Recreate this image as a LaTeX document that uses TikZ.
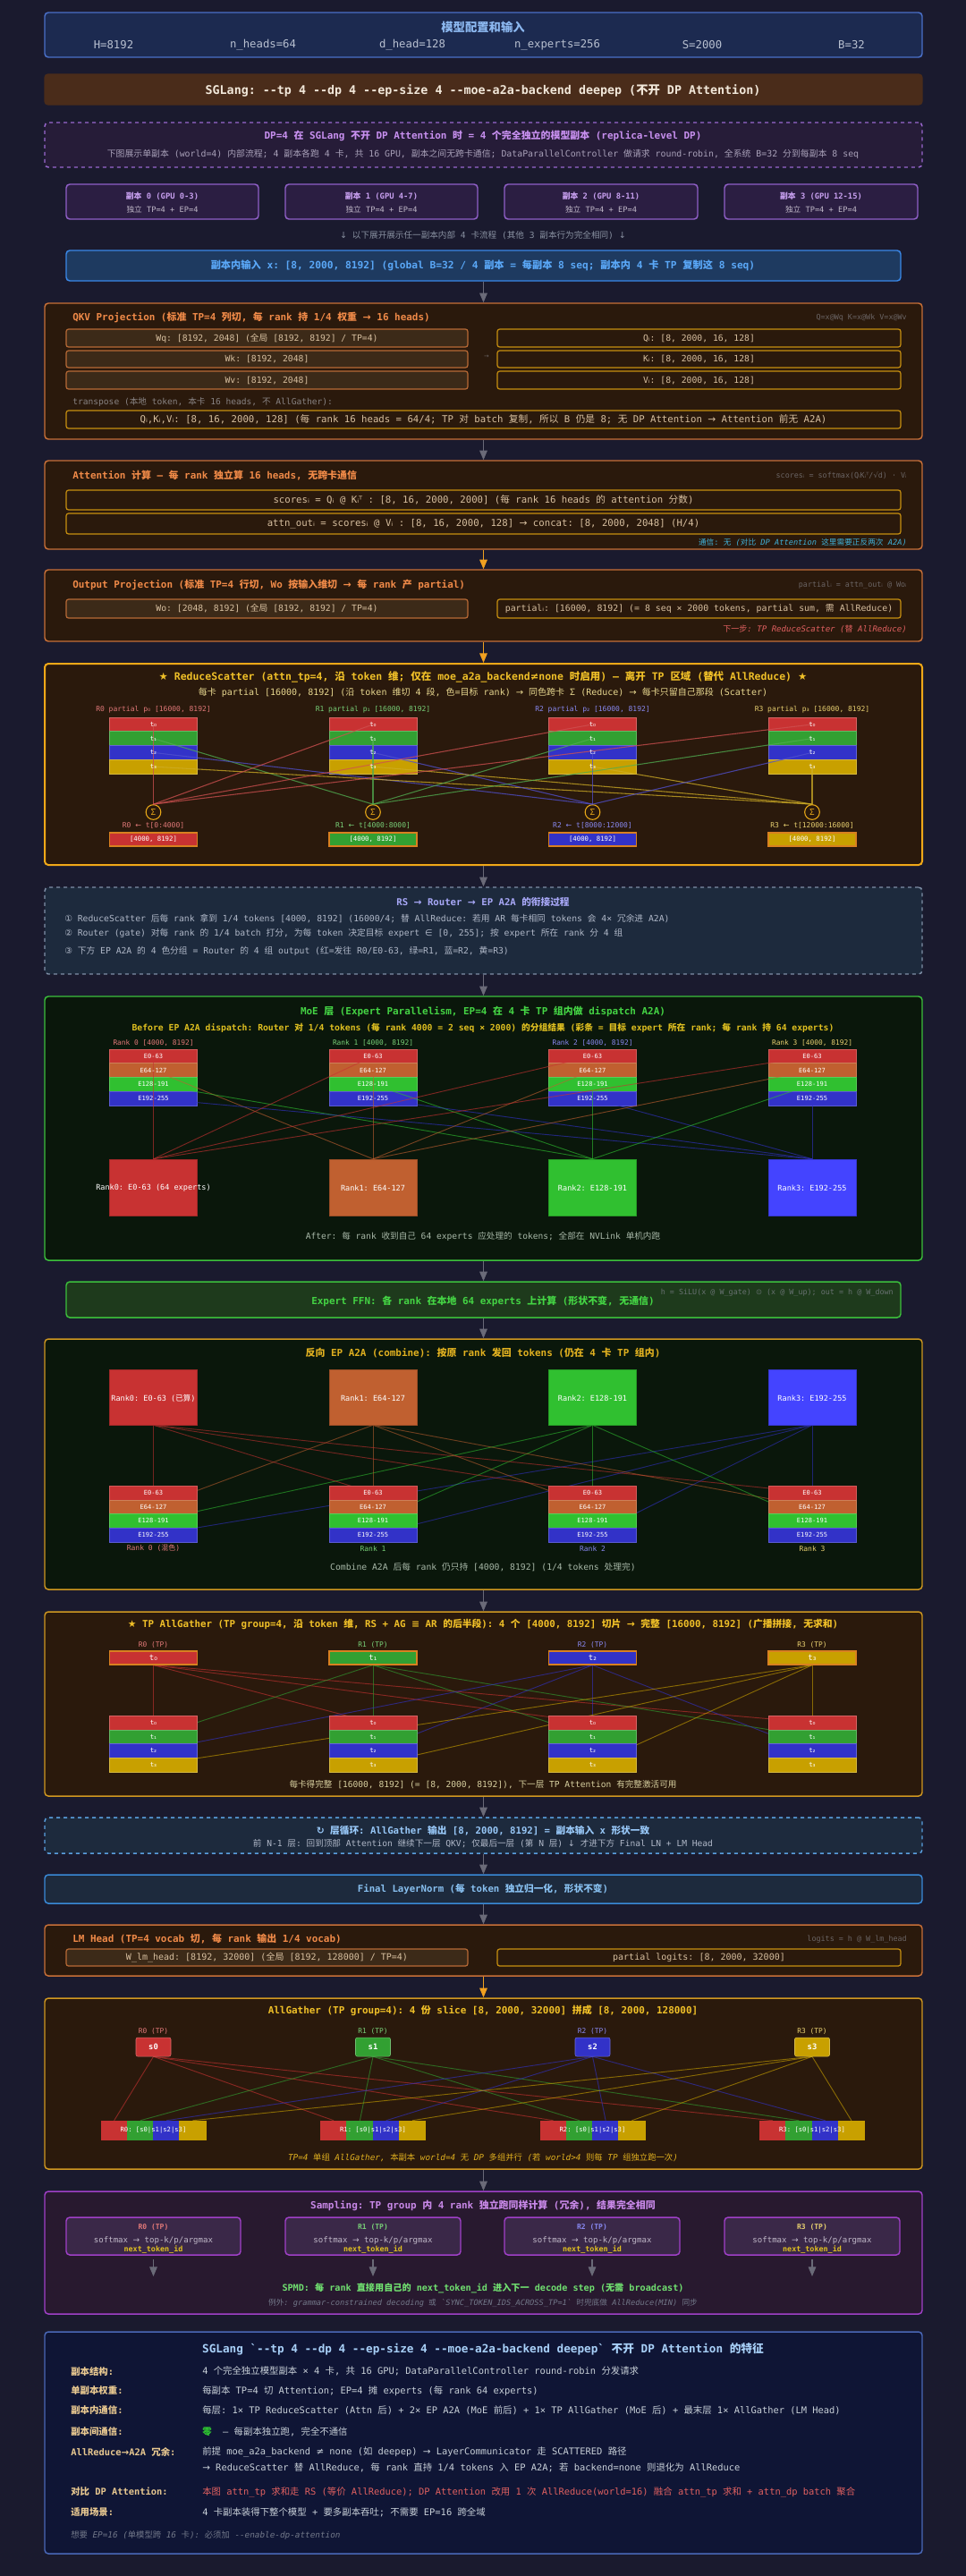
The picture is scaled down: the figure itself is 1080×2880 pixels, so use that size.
\documentclass[tikz,border=0pt]{standalone}
\usepackage{fontspec}
\setmonofont{DejaVu Sans Mono}
\renewcommand{\familydefault}{\ttdefault}
\newfontfamily\cjkfont{Noto Sans CJK SC}
\newfontfamily\symfont{DejaVu Sans}
\usetikzlibrary{fit,arrows.meta}
\pgfdeclarelayer{boxes}
\pgfdeclarelayer{lines}
\pgfsetlayers{boxes,lines,main}
% --- automatic font switching between Latin / CJK / symbols ---
\XeTeXinterchartokenstate=1
\newXeTeXintercharclass\cjkcls
\newXeTeXintercharclass\symcls
\newcount\ccnt
\def\setcls#1#2#3{\ccnt=#1\relax\loop\XeTeXcharclass\ccnt=#3\relax\ifnum\ccnt<#2\advance\ccnt by 1\repeat}
\setcls{"4E00}{"9FFF}{\cjkcls}
\setcls{"3000}{"303F}{\cjkcls}
\setcls{"FF00}{"FFEF}{\cjkcls}
\XeTeXcharclass"1D62=\symcls
\XeTeXcharclass"1D40=\symcls
\XeTeXcharclass"2080=\symcls
\XeTeXcharclass"2081=\symcls
\XeTeXcharclass"2082=\symcls
\XeTeXcharclass"2083=\symcls
\XeTeXcharclass"2605=\symcls
\XeTeXcharclass"21BB=\symcls
\XeTeXcharclass"2460=\symcls
\XeTeXcharclass"2461=\symcls
\XeTeXcharclass"2462=\symcls
\XeTeXcharclass"2299=\symcls
\XeTeXcharclass"221A=\symcls
\XeTeXcharclass"2190=\symcls
\XeTeXcharclass"2192=\symcls
\XeTeXcharclass"2193=\symcls
\XeTeXcharclass"2260=\symcls
\XeTeXcharclass"2208=\symcls
\XeTeXcharclass"2261=\symcls
\XeTeXinterchartoks 0 \cjkcls = {\cjkfont}
\XeTeXinterchartoks 4095 \cjkcls = {\cjkfont}
\XeTeXinterchartoks \symcls \cjkcls = {\cjkfont}
\XeTeXinterchartoks \cjkcls 0 = {\ttfamily}
\XeTeXinterchartoks \cjkcls 4095 = {\ttfamily}
\XeTeXinterchartoks \cjkcls \symcls = {\symfont}
\XeTeXinterchartoks 0 \symcls = {\symfont}
\XeTeXinterchartoks 4095 \symcls = {\symfont}
\XeTeXinterchartoks \symcls 0 = {\ttfamily}
\XeTeXinterchartoks \symcls 4095 = {\ttfamily}
\newcommand\fz[1]{\fontsize{#1}{#1}\selectfont}
\newcommand\sub[1]{\ifcase#1 ₀\or ₁\or ₂\or ₃\fi}
% --- colours ---
\definecolor{bgc}{HTML}{1A1A2E}
\definecolor{cfgfill}{HTML}{1C2A50}
\definecolor{cfgdraw}{HTML}{4A70C8}
\definecolor{cfgtitle}{HTML}{8CB8F0}
\definecolor{cfgtxt}{HTML}{B8C0D0}
\definecolor{banner}{HTML}{4A2C1A}
\definecolor{bannertxt}{HTML}{F2E8DA}
\definecolor{dpfill}{HTML}{261C38}
\definecolor{dpdraw}{HTML}{9A68D0}
\definecolor{dptitle}{HTML}{C890F0}
\definecolor{dpsub}{HTML}{A8A0B8}
\definecolor{repfill}{HTML}{2B1E42}
\definecolor{repdraw}{HTML}{9060C8}
\definecolor{reptitle}{HTML}{C8A0F0}
\definecolor{reptxt}{HTML}{C0B8C8}
\definecolor{notec}{HTML}{8890A0}
\definecolor{infill}{HTML}{1E3A60}
\definecolor{indraw}{HTML}{3A88E8}
\definecolor{intxt}{HTML}{5AA8F8}
\definecolor{ofill}{HTML}{2A190C}
\definecolor{odraw}{HTML}{C87038}
\definecolor{otitle}{HTML}{F08A48}
\definecolor{onote}{HTML}{6A6464}
\definecolor{wfill}{HTML}{3C2A18}
\definecolor{wdraw}{HTML}{B86A36}
\definecolor{wtxt}{HTML}{D8C0A0}
\definecolor{qdraw}{HTML}{C89010}
\definecolor{arrgray}{HTML}{6A6A78}
\definecolor{arrgold}{HTML}{F0A020}
\definecolor{rsdraw}{HTML}{F0A818}
\definecolor{rstitle}{HTML}{F0C028}
\definecolor{rssub}{HTML}{E8D890}
\definecolor{sigc}{HTML}{E8A818}
\definecolor{rc0}{HTML}{C83232}
\definecolor{rc1}{HTML}{32A032}
\definecolor{rc2}{HTML}{3232C8}
\definecolor{rc3}{HTML}{C8A000}
\definecolor{ec0}{HTML}{C83232}
\definecolor{ec1}{HTML}{C06030}
\definecolor{ec2}{HTML}{30C030}
\definecolor{ec3}{HTML}{3232C8}
\definecolor{bk0}{HTML}{C83232}
\definecolor{bk1}{HTML}{C06030}
\definecolor{bk2}{HTML}{30C030}
\definecolor{bk3}{HTML}{4444FF}
\definecolor{lab0}{HTML}{E07878}
\definecolor{lab1}{HTML}{78D078}
\definecolor{lab2}{HTML}{8888F0}
\definecolor{lab3}{HTML}{E8D070}
\definecolor{resdraw}{HTML}{D88020}
\definecolor{gfill}{HTML}{0A170B}
\definecolor{gdraw}{HTML}{3CC03C}
\definecolor{gtitle}{HTML}{44D444}
\definecolor{gsub}{HTML}{E0C020}
\definecolor{gnote}{HTML}{A8B8A8}
\definecolor{ffnfill}{HTML}{1E3A1C}
\definecolor{cdraw}{HTML}{D09820}
\definecolor{ctitle}{HTML}{E0B020}
\definecolor{ldfill}{HTML}{1D2A3D}
\definecolor{lddraw}{HTML}{8090A8}
\definecolor{ldtitle}{HTML}{A8A8F8}
\definecolor{ldtxt}{HTML}{B0B8C8}
\definecolor{loopdraw}{HTML}{5AA0E0}
\definecolor{looptitle}{HTML}{98C8F8}
\definecolor{lndraw}{HTML}{3A8AD8}
\definecolor{lntxt}{HTML}{88C0F0}
\definecolor{agnote}{HTML}{D8D0A0}
\definecolor{sfill}{HTML}{28192F}
\definecolor{sdraw}{HTML}{A040C8}
\definecolor{stitle}{HTML}{C888E8}
\definecolor{sbfill}{HTML}{3A2848}
\definecolor{spmd}{HTML}{70E070}
\definecolor{sumfill}{HTML}{0F1535}
\definecolor{sumdraw}{HTML}{4A68B8}
\definecolor{sumtitle}{HTML}{A8D0F8}
\definecolor{sumlab}{HTML}{E8C890}
\definecolor{sumval}{HTML}{C8D0D8}
\definecolor{redtxt}{HTML}{E06060}
\definecolor{teal}{HTML}{40B0D8}
\definecolor{zerog}{HTML}{30D030}
\tikzset{
  sec/.style n args={2}{draw=#1, fill=#2, rounded corners=3pt, line width=1.1pt, inner sep=0pt},
  rowbox/.style n args={2}{draw=#1, fill=#2, rounded corners=2pt, line width=0.9pt, inner sep=0pt},
  segbox/.style={inner sep=0pt, line width=0.4pt},
  tx/.style={inner sep=0pt},
  arr/.style={draw=arrgray, line width=0.8pt, -{Triangle[length=8pt,width=6.5pt]}},
  garr/.style={draw=arrgold, line width=0.8pt, -{Triangle[length=8pt,width=6.5pt]}},
}
\begin{document}
\begin{tikzpicture}[x=0.75pt,y=-0.75pt]
\useasboundingbox (0,0) rectangle (1080,2880);
\begin{pgfonlayer}{boxes}
\fill[bgc] (0,0) rectangle (1080,2880);
\node[sec={cfgdraw}{cfgfill}, fit={(50,14)(1031,64)}] (cfg) {};
\node[sec={banner}{banner}, fit={(50,83)(1031,117)}] (ban) {};
\node[sec={dpdraw}{dpfill}, dashed, fit={(50,137)(1031,187)}] (dp) {};
\node[sec={indraw}{infill}, fit={(74,280)(1007,314)}] (inp) {};
\node[sec={odraw}{ofill}, fit={(50,339)(1031,491)}] (qkv) {};
\node[sec={odraw}{ofill}, fit={(50,515)(1031,614)}] (att) {};
\node[sec={odraw}{ofill}, fit={(50,637)(1031,717)}] (outp) {};
\node[sec={rsdraw}{ofill}, line width=1.5pt, fit={(50,742)(1031,967)}] (rs) {};
\node[sec={lddraw}{ldfill}, dashed, fit={(50,992)(1031,1089)}] (link) {};
\node[sec={gdraw}{gfill}, fit={(50,1114)(1031,1409)}] (moe) {};
\node[sec={gdraw}{ffnfill}, fit={(74,1433)(1007,1473)}] (ffn) {};
\node[sec={cdraw}{gfill}, fit={(50,1497)(1031,1777)}] (comb) {};
\node[sec={cdraw}{ofill}, fit={(50,1802)(1031,2008)}] (ag) {};
\node[sec={loopdraw}{ldfill}, dashed, fit={(50,2032)(1031,2072)}] (loop) {};
\node[sec={lndraw}{ldfill}, fit={(50,2096)(1031,2128)}] (fln) {};
\node[sec={odraw}{ofill}, fit={(50,2152)(1031,2209)}] (lmh) {};
\node[sec={cdraw}{ofill}, fit={(50,2234)(1031,2425)}] (ag2) {};
\node[sec={sdraw}{sfill}, fit={(50,2450)(1031,2587)}] (samp) {};
\node[sec={sumdraw}{sumfill}, fit={(50,2607)(1031,2855)}] (sum) {};
\end{pgfonlayer}

% ---------- config ----------
\node[tx, font=\fz{10}\bfseries, text=cfgtitle] (cfgT) at (540,30) {模型配置和输入};
\node[tx, font=\fz{9.2}, text=cfgtxt] (p1) at (127,50) {H=8192};
\node[tx, font=\fz{9.2}, text=cfgtxt] (p2) at (294,50) {n\_heads=64};
\node[tx, font=\fz{9.2}, text=cfgtxt] (p3) at (461,50) {d\_head=128};
\node[tx, font=\fz{9.2}, text=cfgtxt] (p4) at (623,50) {n\_experts=256};
\node[tx, font=\fz{9.2}, text=cfgtxt] (p5) at (785,50) {S=2000};
\node[tx, font=\fz{9.2}, text=cfgtxt] (p6) at (952,50) {B=32};
\node[tx, font=\fz{10}\bfseries, text=bannertxt] (banT) at (540,101) {SGLang: --tp 4 --dp 4 --ep-size 4 --moe-a2a-backend deepep (不开 DP Attention)};
\node[tx, font=\fz{8.2}\bfseries, text=dptitle] (dpT) at (540,152) {DP=4 在 SGLang 不开 DP Attention 时 = 4 个完全独立的模型副本 (replica-level DP)};
\node[tx, font=\fz{7.4}, text=dpsub] (dpS) at (540,172) {下图展示单副本 (world=4) 内部流程; 4 副本各跑 4 卡, 共 16 GPU, 副本之间无跨卡通信; DataParallelController 做请求 round-robin, 全系统 B=32 分到每副本 8 seq};
\foreach \i/\xa/\xb/\g in {0/74/289/0-3,1/319/534/4-7,2/564/780/8-11,3/810/1026/12-15}{
  \node[sec={repdraw}{repfill}, fit={(\xa,206)(\xb,245)}] (rep\i) {};
  \node[tx, font=\fz{6.6}\bfseries, text=reptitle] (repT\i) at ({(\xa+\xb)/2},219) {副本 \i\ (GPU \g)};
  \node[tx, font=\fz{6.5}, text=reptxt] (repS\i) at ({(\xa+\xb)/2},234) {独立 TP=4 + EP=4};
}
\node[tx, font=\fz{7.2}, text=notec] (expl) at (540,263) {↓ 以下展开展示任一副本内部 4 卡流程 (其他 3 副本行为完全相同) ↓};
\node[tx, font=\fz{8.4}\bfseries, text=intxt] (inpT) at (540,297) {副本内输入 x: [8, 2000, 8192] (global B=32 / 4 副本 = 每副本 8 seq; 副本内 4 卡 TP 复制这 8 seq)};
\draw[arr] (inp.south) -- (qkv.north);

% ---------- QKV ----------
\node[tx, anchor=west, font=\fz{8.2}\bfseries, text=otitle] (qkvT) at (81,355) {QKV Projection (标准 TP=4 列切, 每 rank 持 1/4 权重 → 16 heads)};
\node[tx, anchor=east, font=\fz{6.3}, text=onote] (qkvN) at (1014,355) {Q=x@Wq K=x@Wk V=x@Wv};
\node[rowbox={wdraw}{wfill}, fit={(74,368)(523,388)}] (wq) {};
\node[rowbox={wdraw}{wfill}, fit={(74,392)(523,411)}] (wk) {};
\node[rowbox={wdraw}{wfill}, fit={(74,415)(523,435)}] (wv) {};
\node[rowbox={qdraw}{ofill}, fit={(556,368)(1007,388)}] (qq) {};
\node[rowbox={qdraw}{ofill}, fit={(556,392)(1007,411)}] (kk) {};
\node[rowbox={qdraw}{ofill}, fit={(556,415)(1007,435)}] (vv) {};
\node[tx, font=\fz{7.3}, text=wtxt] (wqT) at (wq.center) {Wq: [8192, 2048] (全局 [8192, 8192] / TP=4)};
\node[tx, font=\fz{7.3}, text=wtxt] (wkT) at (wk.center) {Wk: [8192, 2048]};
\node[tx, font=\fz{7.3}, text=wtxt] (wvT) at (wv.center) {Wv: [8192, 2048]};
\node[tx, font=\fz{7.3}, text=wtxt] (qqT) at (qq.center) {Qᵢ: [8, 2000, 16, 128]};
\node[tx, font=\fz{7.3}, text=wtxt] (kkT) at (kk.center) {Kᵢ: [8, 2000, 16, 128]};
\node[tx, font=\fz{7.3}, text=wtxt] (vvT) at (vv.center) {Vᵢ: [8, 2000, 16, 128]};
\node[tx, font=\fz{5}, text=onote] (qkvA) at (544,399) {→};
\node[tx, anchor=west, font=\fz{7.2}, text=onote!80!white] (trT) at (81,449) {transpose (本地 token, 本卡 16 heads, 不 AllGather):};
\node[rowbox={qdraw}{ofill}, fit={(74,459)(1007,479)}] (qkvr) {};
\node[tx, font=\fz{8}, text=wtxt] (qkvrT) at (qkvr.center) {Qᵢ,Kᵢ,Vᵢ: [8, 16, 2000, 128] (每 rank 16 heads = 64/4; TP 对 batch 复制, 所以 B 仍是 8; 无 DP Attention → Attention 前无 A2A)};
\draw[arr] (qkv.south) -- (att.north);

% ---------- Attention ----------
\node[tx, anchor=west, font=\fz{8.2}\bfseries, text=otitle] (attT) at (81,532) {Attention 计算 — 每 rank 独立算 16 heads, 无跨卡通信};
\node[tx, anchor=east, font=\fz{6.3}, text=onote] (attN) at (1014,532) {scoresᵢ = softmax(QᵢKᵢᵀ/√d) · Vᵢ};
\node[rowbox={qdraw}{ofill}, fit={(74,548)(1007,570)}] (sc) {};
\node[rowbox={qdraw}{ofill}, fit={(74,574)(1007,597)}] (ao) {};
\node[tx, font=\fz{8}, text=wtxt] (scT) at (sc.center) {scoresᵢ = Qᵢ @ Kᵢᵀ : [8, 16, 2000, 2000] (每 rank 16 heads 的 attention 分数)};
\node[tx, font=\fz{8}, text=wtxt] (aoT) at (ao.center) {attn\_outᵢ = scoresᵢ @ Vᵢ : [8, 16, 2000, 128] → concat: [8, 2000, 2048] (H/4)};
\node[tx, anchor=east, font=\fz{6.5}, text=teal] (attC) at (1014,606) {通信: 无 {\itshape(对比 DP Attention 这里需要正反两次 A2A)}};
\draw[garr] (att.south) -- (outp.north);

% ---------- Output projection ----------
\node[tx, anchor=west, font=\fz{8.2}\bfseries, text=otitle] (outT) at (81,654) {Output Projection (标准 TP=4 行切, Wo 按输入维切 → 每 rank 产 partial)};
\node[tx, anchor=east, font=\fz{6.3}, text=onote] (outN) at (1014,654) {partialᵢ = attn\_outᵢ @ Woᵢ};
\node[rowbox={wdraw}{wfill}, fit={(74,670)(523,691)}] (wo) {};
\node[rowbox={qdraw}{ofill}, fit={(556,670)(1007,691)}] (pa) {};
\node[tx, font=\fz{7.3}, text=wtxt] (woT) at (wo.center) {Wo: [2048, 8192] (全局 [8192, 8192] / TP=4)};
\node[tx, font=\fz{7.4}, text=wtxt] (paT) at (pa.center) {partialᵢ: [16000, 8192] (= 8 seq × 2000 tokens, partial sum, 需 AllReduce)};
\node[tx, anchor=east, font=\fz{6.8}\itshape, text=redtxt] (outX) at (1014,703) {下一步: TP ReduceScatter (替 AllReduce)};
\draw[garr] (outp.south) -- (rs.north);

% ---------- ReduceScatter ----------
\node[tx, font=\fz{8.6}\bfseries, text=rstitle] (rsT) at (540,757) {★ ReduceScatter (attn\_tp=4, 沿 token 维; 仅在 moe\_a2a\_backend≠none 时启用) — 离开 TP 区域 (替代 AllReduce) ★};
\node[tx, font=\fz{7.5}, text=rssub] (rsS) at (540,774) {每卡 partial [16000, 8192] (沿 token 维切 4 段, 色=目标 rank) → 同色跨卡 Σ (Reduce) → 每卡只留自己那段 (Scatter)};
\foreach \i/\x/\lab in {0/171.5/R0 ← t[0:4000],1/417/R1 ← t[4000:8000],2/662.5/R2 ← t[8000:12000],3/908/R3 ← t[12000:16000]}{
  \node[tx, font=\fz{6}, text=lab\i] (rsL\i) at (\x,793) {R\i\ partial p\sub{\i} [16000, 8192]};
  \foreach \j in {0,1,2,3}{
    \node[segbox, fill=rc\j, draw=rc\j!75!white, fit={(\x-49,{802+15.75*\j})(\x+49,{802+15.75*(\j+1)})}] (rsB\i\j) {};
  }
  \node[circle, draw=sigc, fill=ofill, line width=0.8pt, minimum size=12.5pt, inner sep=0pt, text=sigc, font=\fz{7}] (sig\i) at (\x,908) {Σ};
  \node[tx, font=\fz{6}, text=lab\i] (rsR\i) at (\x,923) {\lab};
  \node[segbox, fill=rc\i, draw=resdraw, line width=0.9pt, fit={(\x-49,931)(\x+49,946)}] (rsO\i) {};
  \node[tx, font=\fz{5.5}, text=white] (rsOT\i) at (rsO\i.center) {[4000, 8192]};
}
\foreach \i in {0,1,2,3}{\foreach \j in {0,1,2,3}{
  \draw[rc\j!85!white, opacity=0.75, line width=0.8pt] (rsB\i\j.center) -- (sig\j.north);
}}
\foreach \i in {0,1,2,3}{\foreach \j in {0,1,2,3}{
  \node[tx, font=\fz{5.5}, text=white] (rsBT\i\j) at (rsB\i\j.center) {t\sub{\j}};
}}
\draw[arr] (rs.south) -- (link.north);

% ---------- RS -> Router -> A2A ----------
\node[tx, font=\fz{8}\bfseries, text=ldtitle] (linkT) at (540,1008) {RS → Router → EP A2A 的衔接过程};
\node[tx, anchor=west, font=\fz{7.3}, text=ldtxt] (l1) at (72,1027) {① ReduceScatter 后每 rank 拿到 1/4 tokens [4000, 8192] (16000/4; 替 AllReduce: 若用 AR 每卡相同 tokens 会 4× 冗余进 A2A)};
\node[tx, anchor=west, font=\fz{7.3}, text=ldtxt] (l2) at (72,1043) {② Router (gate) 对每 rank 的 1/4 batch 打分, 为每 token 决定目标 expert ∈ [0, 255]; 按 expert 所在 rank 分 4 组};
\node[tx, anchor=west, font=\fz{7.3}, text=ldtxt] (l3) at (72,1063) {③ 下方 EP A2A 的 4 色分组 = Router 的 4 组 output (红=发往 R0/E0-63, 绿=R1, 蓝=R2, 黄=R3)};
\draw[arr] (link.south) -- (moe.north);

% ---------- MoE dispatch ----------
\node[tx, font=\fz{8.2}\bfseries, text=gtitle] (moeT) at (540,1131) {MoE 层 (Expert Parallelism, EP=4 在 4 卡 TP 组内做 dispatch A2A)};
\node[tx, font=\fz{7.3}\bfseries, text=gsub] (moeS) at (540,1149) {Before EP A2A dispatch: Router 对 1/4 tokens (每 rank 4000 = 2 seq × 2000) 的分组结果 (彩条 = 目标 expert 所在 rank; 每 rank 持 64 experts)};
\foreach \i/\x/\lab in {0/171.5/Rank0: E0-63 (64 experts),1/417/Rank1: E64-127,2/662.5/Rank2: E128-191,3/908/Rank3: E192-255}{
  \node[tx, font=\fz{5.9}, text=lab\i] (mL\i) at (\x,1166) {Rank \i\ [4000, 8192]};
  \foreach \j/\e in {0/E0-63,1/E64-127,2/E128-191,3/E192-255}{
    \node[segbox, fill=ec\j, draw=ec\j!80!white, fit={(\x-49,{1173+15.75*\j})(\x+49,{1173+15.75*(\j+1)})}] (mB\i\j) {};
  }
  \node[segbox, fill=bk\i, draw=bk\i!80!black, fit={(\x-49,1296)(\x+49,1359)}] (mR\i) {};
  \node[tx, font=\fz{6.4}, text=white] (mRT\i) at (\x,1328) {\lab};
}
\foreach \i in {0,1,2,3}{\foreach \j in {0,1,2,3}{
  \draw[ec\j, opacity=0.6, line width=0.7pt] (mB\i\j.center) -- (mR\j.north);
}}
\foreach \i in {0,1,2,3}{\foreach \j/\e in {0/E0-63,1/E64-127,2/E128-191,3/E192-255}{
  \node[tx, font=\fz{5.3}, text=white] (mBT\i\j) at (mB\i\j.center) {\e};
}}
\node[tx, font=\fz{7.2}, text=gnote] (moeN) at (540,1382) {After: 每 rank 收到自己 64 experts 应处理的 tokens; 全部在 NVLink 单机内跑};
\draw[arr] (moe.south) -- (ffn.north);

% ---------- Expert FFN ----------
\node[tx, font=\fz{8.2}\bfseries, text=gtitle] (ffnT) at (540,1455) {Expert FFN: 各 rank 在本地 64 experts 上计算 (形状不变, 无通信)};
\node[tx, anchor=east, font=\fz{6.3}, text=gnote!55!bgc] (ffnN) at (999,1445) {h = SiLU(x @ W\_gate) ⊙ (x @ W\_up); out = h @ W\_down};
\draw[arr] (ffn.south) -- (comb.north);

% ---------- Combine ----------
\node[tx, font=\fz{8.2}\bfseries, text=ctitle] (combT) at (540,1512) {反向 EP A2A (combine): 按原 rank 发回 tokens (仍在 4 卡 TP 组内)};
\foreach \i/\x/\lab/\rl in {0/171.5/Rank0: E0-63 (已算)/Rank 0 (混色),1/417/Rank1: E64-127/Rank 1,2/662.5/Rank2: E128-191/Rank 2,3/908/Rank3: E192-255/Rank 3}{
  \node[segbox, fill=bk\i, draw=bk\i!80!black, fit={(\x-49,1531)(\x+49,1593)}] (cR\i) {};
  \node[tx, font=\fz{6.4}, text=white] (cRT\i) at (\x,1563) {\lab};
  \foreach \j/\e in {0/E0-63,1/E64-127,2/E128-191,3/E192-255}{
    \node[segbox, fill=ec\j, draw=ec\j!80!white, fit={(\x-49,{1661+15.75*\j})(\x+49,{1661+15.75*(\j+1)})}] (cB\i\j) {};
    \node[tx, font=\fz{5.3}, text=white] (cBT\i\j) at (cB\i\j.center) {\e};
  }
  \node[tx, font=\fz{6}, text=lab\i] (cL\i) at (\x,1731) {\rl};
}
\begin{pgfonlayer}{lines}
\foreach \i in {0,1,2,3}{\foreach \j in {0,1,2,3}{
  \draw[ec\j, opacity=0.55, line width=0.7pt] (cR\j.south) -- (cB\i\j.center);
}}
\end{pgfonlayer}
\node[tx, font=\fz{7.3}, text=gnote] (combN) at (540,1752) {Combine A2A 后每 rank 仍只持 [4000, 8192] (1/4 tokens 处理完)};
\draw[arr] (comb.south) -- (ag.north);

% ---------- TP AllGather ----------
\node[tx, font=\fz{8.1}\bfseries, text=rstitle] (agT) at (540,1816) {★ TP AllGather (TP group=4, 沿 token 维, RS + AG ≡ AR 的后半段): 4 个 [4000, 8192] 切片 → 完整 [16000, 8192] (广播拼接, 无求和)};
\foreach \i/\x in {0/171.5,1/417,2/662.5,3/908}{
  \node[tx, font=\fz{5.9}, text=lab\i] (aL\i) at (\x,1839) {R\i\ (TP)};
  \node[segbox, fill=rc\i, draw=resdraw, line width=0.9pt, fit={(\x-49,1846)(\x+49,1861)}] (aT\i) {};
  \node[tx, font=\fz{6.8}, text=white] (aTT\i) at (aT\i.center) {t\sub{\i}};
  \foreach \j in {0,1,2,3}{
    \node[segbox, fill=rc\j, draw=rc\j!75!white, fit={(\x-49,{1918+15.75*\j})(\x+49,{1918+15.75*(\j+1)})}] (aB\i\j) {};
    \node[tx, font=\fz{5.5}, text=white] (aBT\i\j) at (aB\i\j.center) {t\sub{\j}};
  }
}
\begin{pgfonlayer}{lines}
\foreach \i in {0,1,2,3}{\foreach \k in {0,1,2,3}{
  \draw[rc\i, opacity=0.6, line width=0.7pt] (aT\i.south) -- (aB\k\i.center);
}}
\end{pgfonlayer}
\node[tx, font=\fz{7.2}, text=agnote] (agN) at (540,1995) {每卡得完整 [16000, 8192] (= [8, 2000, 8192]), 下一层 TP Attention 有完整激活可用};
\draw[arr] (ag.south) -- (loop.north);

% ---------- loop ----------
\node[tx, font=\fz{8}\bfseries, text=looptitle] (loopT) at (540,2047) {↻ 层循环: AllGather 输出 [8, 2000, 8192] = 副本输入 x 形状一致};
\node[tx, font=\fz{7.2}, text=ldtxt] (loopS) at (540,2061) {前 N-1 层: 回到顶部 Attention 继续下一层 QKV; 仅最后一层 (第 N 层) ↓ 才进下方 Final LN + LM Head};
\draw[arr] (loop.south) -- (fln.north);
\node[tx, font=\fz{8}\bfseries, text=lntxt] (flnT) at (540,2112) {Final LayerNorm (每 token 独立归一化, 形状不变)};
\draw[arr] (fln.south) -- (lmh.north);

% ---------- LM head ----------
\node[tx, anchor=west, font=\fz{8.2}\bfseries, text=otitle] (lmhT) at (81,2168) {LM Head (TP=4 vocab 切, 每 rank 输出 1/4 vocab)};
\node[tx, anchor=east, font=\fz{6.3}, text=onote] (lmhN) at (1014,2168) {logits = h @ W\_lm\_head};
\node[rowbox={wdraw}{wfill}, fit={(74,2179)(523,2198)}] (wlm) {};
\node[rowbox={qdraw}{ofill}, fit={(556,2179)(1007,2198)}] (plg) {};
\node[tx, font=\fz{7.5}, text=wtxt] (wlmT) at (wlm.center) {W\_lm\_head: [8192, 32000] (全局 [8192, 128000] / TP=4)};
\node[tx, font=\fz{7.5}, text=wtxt] (plgT) at (plg.center) {partial logits: [8, 2000, 32000]};
\draw[garr] (lmh.south) -- (ag2.north);

% ---------- AllGather logits ----------
\node[tx, font=\fz{8.2}\bfseries, text=rstitle] (ag2T) at (540,2248) {AllGather (TP group=4): 4 份 slice [8, 2000, 32000] 拼成 [8, 2000, 128000]};
\foreach \i/\x in {0/171.5,1/417,2/662.5,3/908}{
  \node[tx, font=\fz{5.9}, text=lab\i] (gL\i) at (\x,2271) {R\i\ (TP)};
  \node[segbox, fill=rc\i, draw=rc\i!70!white, rounded corners=1.5pt, fit={(\x-19.5,2278)(\x+19.5,2299)}] (gS\i) {};
  \node[tx, font=\fz{6.6}\bfseries, text=white] (gST\i) at (gS\i.center) {s\i};
  \foreach \j in {0,1,2,3}{
    \node[segbox, fill=rc\j, draw=rc\j, fit={({\x-58.5+29.25*\j},2371)({\x-58.5+29.25*(\j+1)},2392)}] (gB\i\j) {};
  }
  \node[tx, font=\fz{5.4}, text=white] (gBT\i) at (\x,2381.5) {R\i: [s0|s1|s2|s3]};
}
\begin{pgfonlayer}{lines}
\foreach \i in {0,1,2,3}{\foreach \k in {0,1,2,3}{
  \draw[rc\i, opacity=0.6, line width=0.7pt] (gS\i.south) -- (gB\k\i.north);
}}
\end{pgfonlayer}
\node[tx, font=\fz{7}\itshape, text=ctitle] (ag2N) at (540,2412) {TP=4 单组 AllGather, 本副本 world=4 无 DP 多组并行 (若 world>4 则每 TP 组独立跑一次)};
\draw[arr] (ag2.south) -- (samp.north);

% ---------- Sampling ----------
\node[tx, font=\fz{8.2}\bfseries, text=stitle] (sampT) at (540,2466) {Sampling: TP group 内 4 rank 独立跑同样计算 (冗余), 结果完全相同};
\foreach \i/\xa/\xb in {0/74/269,1/319/515,2/564/760,3/810/1006}{
  \node[sec={sdraw}{sbfill}, fit={(\xa,2479)(\xb,2521)}] (sb\i) {};
  \node[tx, font=\fz{6}\bfseries, text=lab\i] (sbT\i) at ({(\xa+\xb)/2},2490) {R\i\ (TP)};
  \node[tx, font=\fz{6.8}, text=reptxt] (sbS\i) at ({(\xa+\xb)/2},2505) {softmax → top-k/p/argmax};
  \node[tx, font=\fz{6.3}\bfseries, text=gsub] (sbN\i) at ({(\xa+\xb)/2},2515) {next\_token\_id};
  \coordinate (sa\i) at ({(\xa+\xb)/2},2545);
  \draw[arr] ([yshift=-3pt]sb\i.south) -- (sa\i);
}
\node[tx, font=\fz{7.6}\bfseries, text=spmd] (spmdT) at (540,2558) {SPMD: 每 rank 直接用自己的 next\_token\_id 进入下一 decode step (无需 broadcast)};
\node[tx, font=\fz{6.5}\itshape, text=notec!80!bgc] (spmdN) at (540,2575) {例外: grammar-constrained decoding 或 `SYNC\_TOKEN\_IDS\_ACROSS\_TP=1` 时兜底做 AllReduce(MIN) 同步};

% ---------- Summary ----------
\node[tx, font=\fz{9.5}\bfseries, text=sumtitle] (sumT) at (540,2626) {SGLang `--tp 4 --dp 4 --ep-size 4 --moe-a2a-backend deepep` 不开 DP Attention 的特征};
\node[tx, anchor=west, font=\fz{7.8}\bfseries, text=sumlab] (s1l) at (79,2651) {副本结构:};
\node[tx, anchor=west, font=\fz{7.8}, text=sumval] (s1v) at (226,2651) {4 个完全独立模型副本 × 4 卡, 共 16 GPU; DataParallelController round-robin 分发请求};
\node[tx, anchor=west, font=\fz{7.8}\bfseries, text=sumlab] (s2l) at (79,2673) {单副本权重:};
\node[tx, anchor=west, font=\fz{7.8}, text=sumval] (s2v) at (226,2673) {每副本 TP=4 切 Attention; EP=4 摊 experts (每 rank 64 experts)};
\node[tx, anchor=west, font=\fz{7.8}\bfseries, text=sumlab] (s3l) at (79,2695) {副本内通信:};
\node[tx, anchor=west, font=\fz{7.8}, text=sumval] (s3v) at (226,2695) {每层: 1× TP ReduceScatter (Attn 后) + 2× EP A2A (MoE 前后) + 1× TP AllGather (MoE 后) + 最末层 1× AllGather (LM Head)};
\node[tx, anchor=west, font=\fz{7.8}\bfseries, text=sumlab] (s4l) at (79,2719) {副本间通信:};
\node[tx, anchor=west, font=\fz{7.8}, text=sumval] (s4v) at (226,2719) {{\bfseries\color{zerog}零}\ \ — 每副本独立跑, 完全不通信};
\node[tx, anchor=west, font=\fz{7.8}\bfseries, text=sumlab] (s5l) at (79,2741) {AllReduce→A2A 冗余:};
\node[tx, anchor=west, font=\fz{7.8}, text=sumval] (s5v) at (226,2741) {前提 moe\_a2a\_backend ≠ none (如 deepep) → LayerCommunicator 走 SCATTERED 路径};
\node[tx, anchor=west, font=\fz{7.8}, text=sumval] (s5w) at (226,2759) {→ ReduceScatter 替 AllReduce, 每 rank 直持 1/4 tokens 入 EP A2A; 若 backend=none 则退化为 AllReduce};
\node[tx, anchor=west, font=\fz{7.8}\bfseries, text=sumlab] (s6l) at (79,2786) {对比 DP Attention:};
\node[tx, anchor=west, font=\fz{7.8}, text=redtxt] (s6v) at (226,2786) {本图 attn\_tp 求和走 RS (等价 AllReduce); DP Attention 改用 1 次 AllReduce(world=16) 融合 attn\_tp 求和 + attn\_dp batch 聚合};
\node[tx, anchor=west, font=\fz{7.8}\bfseries, text=sumlab] (s7l) at (79,2809) {适用场景:};
\node[tx, anchor=west, font=\fz{7.8}, text=sumval] (s7v) at (226,2809) {4 卡副本装得下整个模型 + 要多副本吞吐; 不需要 EP=16 跨全域};
\node[tx, anchor=west, font=\fz{7}\itshape, text=notec!80!bgc] (s8) at (79,2835) {想要 EP=16 (单模型跨 16 卡): 必须加 --enable-dp-attention};
\end{tikzpicture}
\end{document}
